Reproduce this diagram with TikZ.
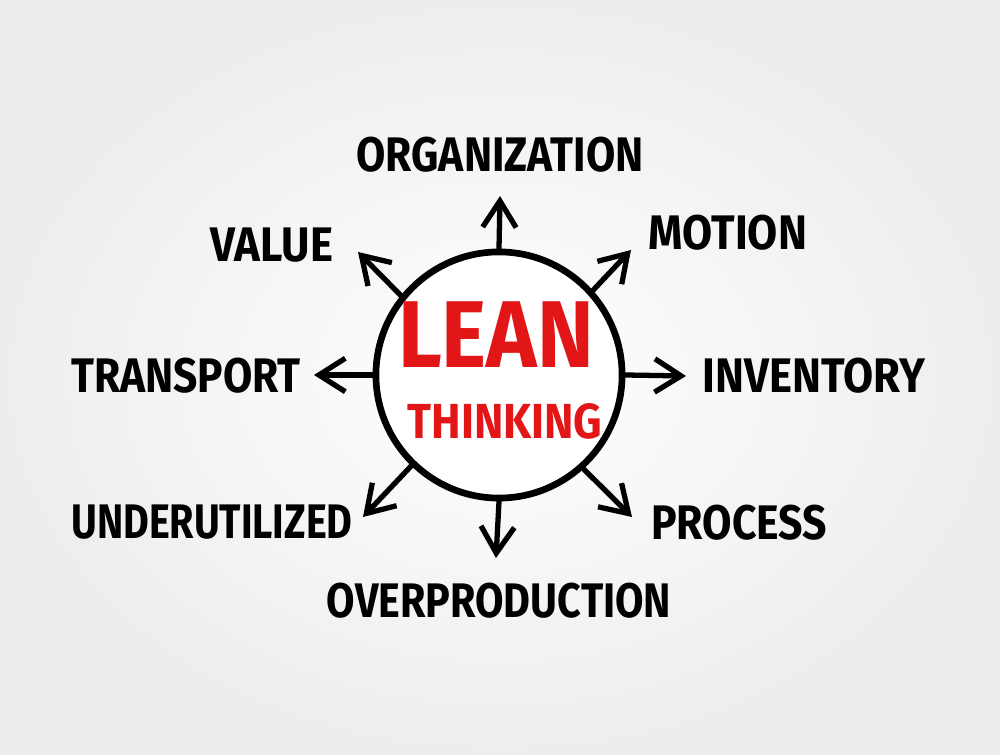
\documentclass[tikz,border=0pt]{standalone}
\usepackage{fontspec}
\setmainfont{Fira Sans}
\usepackage{graphicx}
\usetikzlibrary{arrows.meta}

\definecolor{leanred}{RGB}{226,22,22}
\newcommand{\hand}[2][0.9]{\scalebox{#1}[1]{#2}}

\tikzset{
  word/.style={font=\bfseries\fontsize{13.8}{14}\selectfont, inner sep=0pt},
  spoke/.style={line width=1.5pt, line cap=round,
    -{Straight Barb[length=7.5pt,width=9.5pt]}},
}

\begin{document}
\begin{tikzpicture}[x=0.01cm,y=-0.01cm]
  \shade[inner color=white, outer color=black!7] (0,0) rectangle (1000,755);
  \useasboundingbox (0,0) rectangle (1000,755);

  % centre
  \node[draw, circle, line width=1.9pt, fill=white, minimum size=2.46cm] (hub) at (499,375) {};
  \node[font=\bfseries\fontsize{27}{28}\selectfont, text=leanred, inner sep=0pt] (lean) at (496,335) {\hand{LEAN}};
  \node[font=\bfseries\fontsize{14}{15}\selectfont, text=leanred, inner sep=0pt] (think) at (505,421) {\hand{THINKING}};

  % labels
  \node[word] (org) at (500,155) {\hand[0.875]{ORGANIZATION}};
  \node[word] (motion) at (728,233) {\hand{MOTION}};
  \node[word] (value) at (272,245) {\hand{VALUE}};
  \node[word] (transport) at (186,376) {\hand[0.875]{TRANSPORT}};
  \node[word] (inventory) at (814,376) {\hand{INVENTORY}};
  \node[word] (under) at (212,522) {\hand[0.815]{UNDERUTILIZED}};
  \node[word] (process) at (739,523) {\hand[0.88]{PROCESS}};
  \node[word] (overprod) at (499,601) {\hand[0.85]{OVERPRODUCTION}};

  % arrow tips
  \coordinate (tN) at (500,196);
  \coordinate (tNE) at (631,250);
  \coordinate (tE) at (686,376);
  \coordinate (tSE) at (632,517);
  \coordinate (tS) at (496,558);
  \coordinate (tSW) at (363,517);
  \coordinate (tW) at (314,375);
  \coordinate (tNW) at (358,252);

  \draw[spoke] (hub.90) -- (tN);
  \draw[spoke] (hub.42) -- (tNE);
  \draw[spoke] (hub.0) -- (tE);
  \draw[spoke] (hub.312) -- (tSE);
  \draw[spoke] (hub.270) -- (tS);
  \draw[spoke] (hub.226) -- (tSW);
  \draw[spoke] (hub.180) -- (tW);
  \draw[spoke] (hub.141) -- (tNW);
\end{tikzpicture}
\end{document}
